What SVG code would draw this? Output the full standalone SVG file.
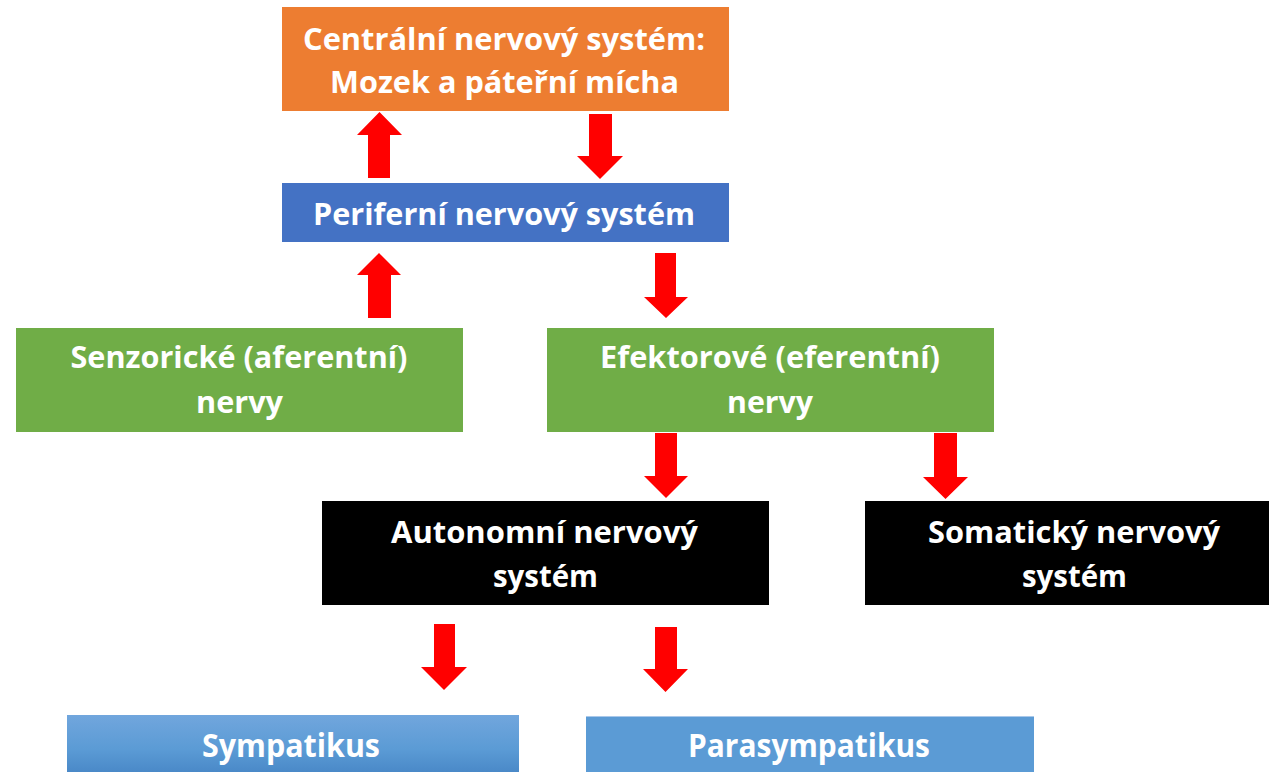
<svg xmlns="http://www.w3.org/2000/svg" width="1269" height="772" viewBox="0 0 1269 772">
  <style>
    .lbl { font-family: "Open Sans", "Liberation Sans", sans-serif; font-weight: 700; font-size: 31px; fill: #FFFFFF; text-anchor: middle; }
    .lbl.big { font-size: 33px; }
    .arrow { fill: #FF0000; }
  </style>
  <defs>
    <linearGradient id="gradSym" x1="0" y1="0" x2="0" y2="1">
      <stop offset="0" stop-color="#71A6DD"/>
      <stop offset="0.6" stop-color="#5B9BD5"/>
      <stop offset="1" stop-color="#4A89C8"/>
    </linearGradient>
  </defs>
  <rect width="1269" height="772" fill="#FFFFFF"/>

  <g id="cns">
    <rect x="282" y="7" width="447" height="104" fill="#ED7D31"/>
    <text class="lbl" x="504" y="50" textLength="402" lengthAdjust="spacingAndGlyphs">Centrální nervový systém:</text>
    <text class="lbl" x="504.5" y="93" textLength="349" lengthAdjust="spacingAndGlyphs">Mozek a páteřní mícha</text>
  </g>

  <g id="pns">
    <rect x="282" y="183" width="447" height="59" fill="#4472C4"/>
    <text class="lbl" x="504" y="225" textLength="382" lengthAdjust="spacingAndGlyphs">Periferní nervový systém</text>
  </g>

  <g id="senzoricke">
    <rect x="16" y="328" width="447" height="104" fill="#70AD47"/>
    <text class="lbl" x="239" y="368" textLength="337" lengthAdjust="spacingAndGlyphs">Senzorické (aferentní)</text>
    <text class="lbl" x="239.5" y="413" textLength="87" lengthAdjust="spacingAndGlyphs">nervy</text>
  </g>

  <g id="efektorove">
    <rect x="547" y="328" width="447" height="104" fill="#70AD47"/>
    <text class="lbl" x="770" y="368" textLength="340" lengthAdjust="spacingAndGlyphs">Efektorové (eferentní)</text>
    <text class="lbl" x="770" y="413" textLength="86" lengthAdjust="spacingAndGlyphs">nervy</text>
  </g>

  <g id="autonomni">
    <rect x="322" y="501" width="447" height="104" fill="#000000"/>
    <text class="lbl" x="544.5" y="543" textLength="307" lengthAdjust="spacingAndGlyphs">Autonomní nervový</text>
    <text class="lbl" x="545.5" y="587" textLength="105" lengthAdjust="spacingAndGlyphs">systém</text>
  </g>

  <g id="somaticky">
    <rect x="865" y="501" width="404" height="104" fill="#000000"/>
    <text class="lbl" x="1074" y="543" textLength="292" lengthAdjust="spacingAndGlyphs">Somatický nervový</text>
    <text class="lbl" x="1074.5" y="587" textLength="105" lengthAdjust="spacingAndGlyphs">systém</text>
  </g>

  <g id="sympatikus">
    <rect x="67" y="715" width="452" height="57" fill="url(#gradSym)"/>
    <text class="lbl big" x="291" y="757" textLength="178" lengthAdjust="spacingAndGlyphs">Sympatikus</text>
  </g>

  <g id="parasympatikus">
    <rect x="586" y="716" width="448" height="56" fill="#5B9BD5"/>
    <line x1="586" y1="716.5" x2="1034" y2="716.5" stroke="#A9C8EA" stroke-width="1"/>
    <text class="lbl big" x="809" y="757" textLength="242" lengthAdjust="spacingAndGlyphs">Parasympatikus</text>
  </g>

  <g id="connectors">
    <!-- PNS -> CNS (up) -->
    <polygon class="arrow" points="368,178 390,178 390,135 402,135 379.5,112 357,135 368,135"/>
    <!-- CNS -> PNS (down) -->
    <polygon class="arrow" points="589,114 612,114 612,156 623,156 600,179 577,156 589,156"/>
    <!-- sensory -> PNS (up) -->
    <polygon class="arrow" points="368,318 391,318 391,275 401,275 379,253 357,275 368,275"/>
    <!-- PNS -> effector (down) -->
    <polygon class="arrow" points="655,253 676,253 676,297 688,297 666,318 644,297 655,297"/>
    <!-- effector -> autonomic -->
    <polygon class="arrow" points="655,433 677,433 677,476 688,476 666,498 644,476 655,476"/>
    <!-- effector -> somatic -->
    <polygon class="arrow" points="934,433 957,433 957,477 968,477 945.5,499 923,477 934,477"/>
    <!-- autonomic -> sympathetic -->
    <polygon class="arrow" points="434,624 455,624 455,667 467,667 444,690 421,667 434,667"/>
    <!-- autonomic -> parasympathetic -->
    <polygon class="arrow" points="655,627 677,627 677,669 688,669 665.5,692 643,669 655,669"/>
  </g>
</svg>
